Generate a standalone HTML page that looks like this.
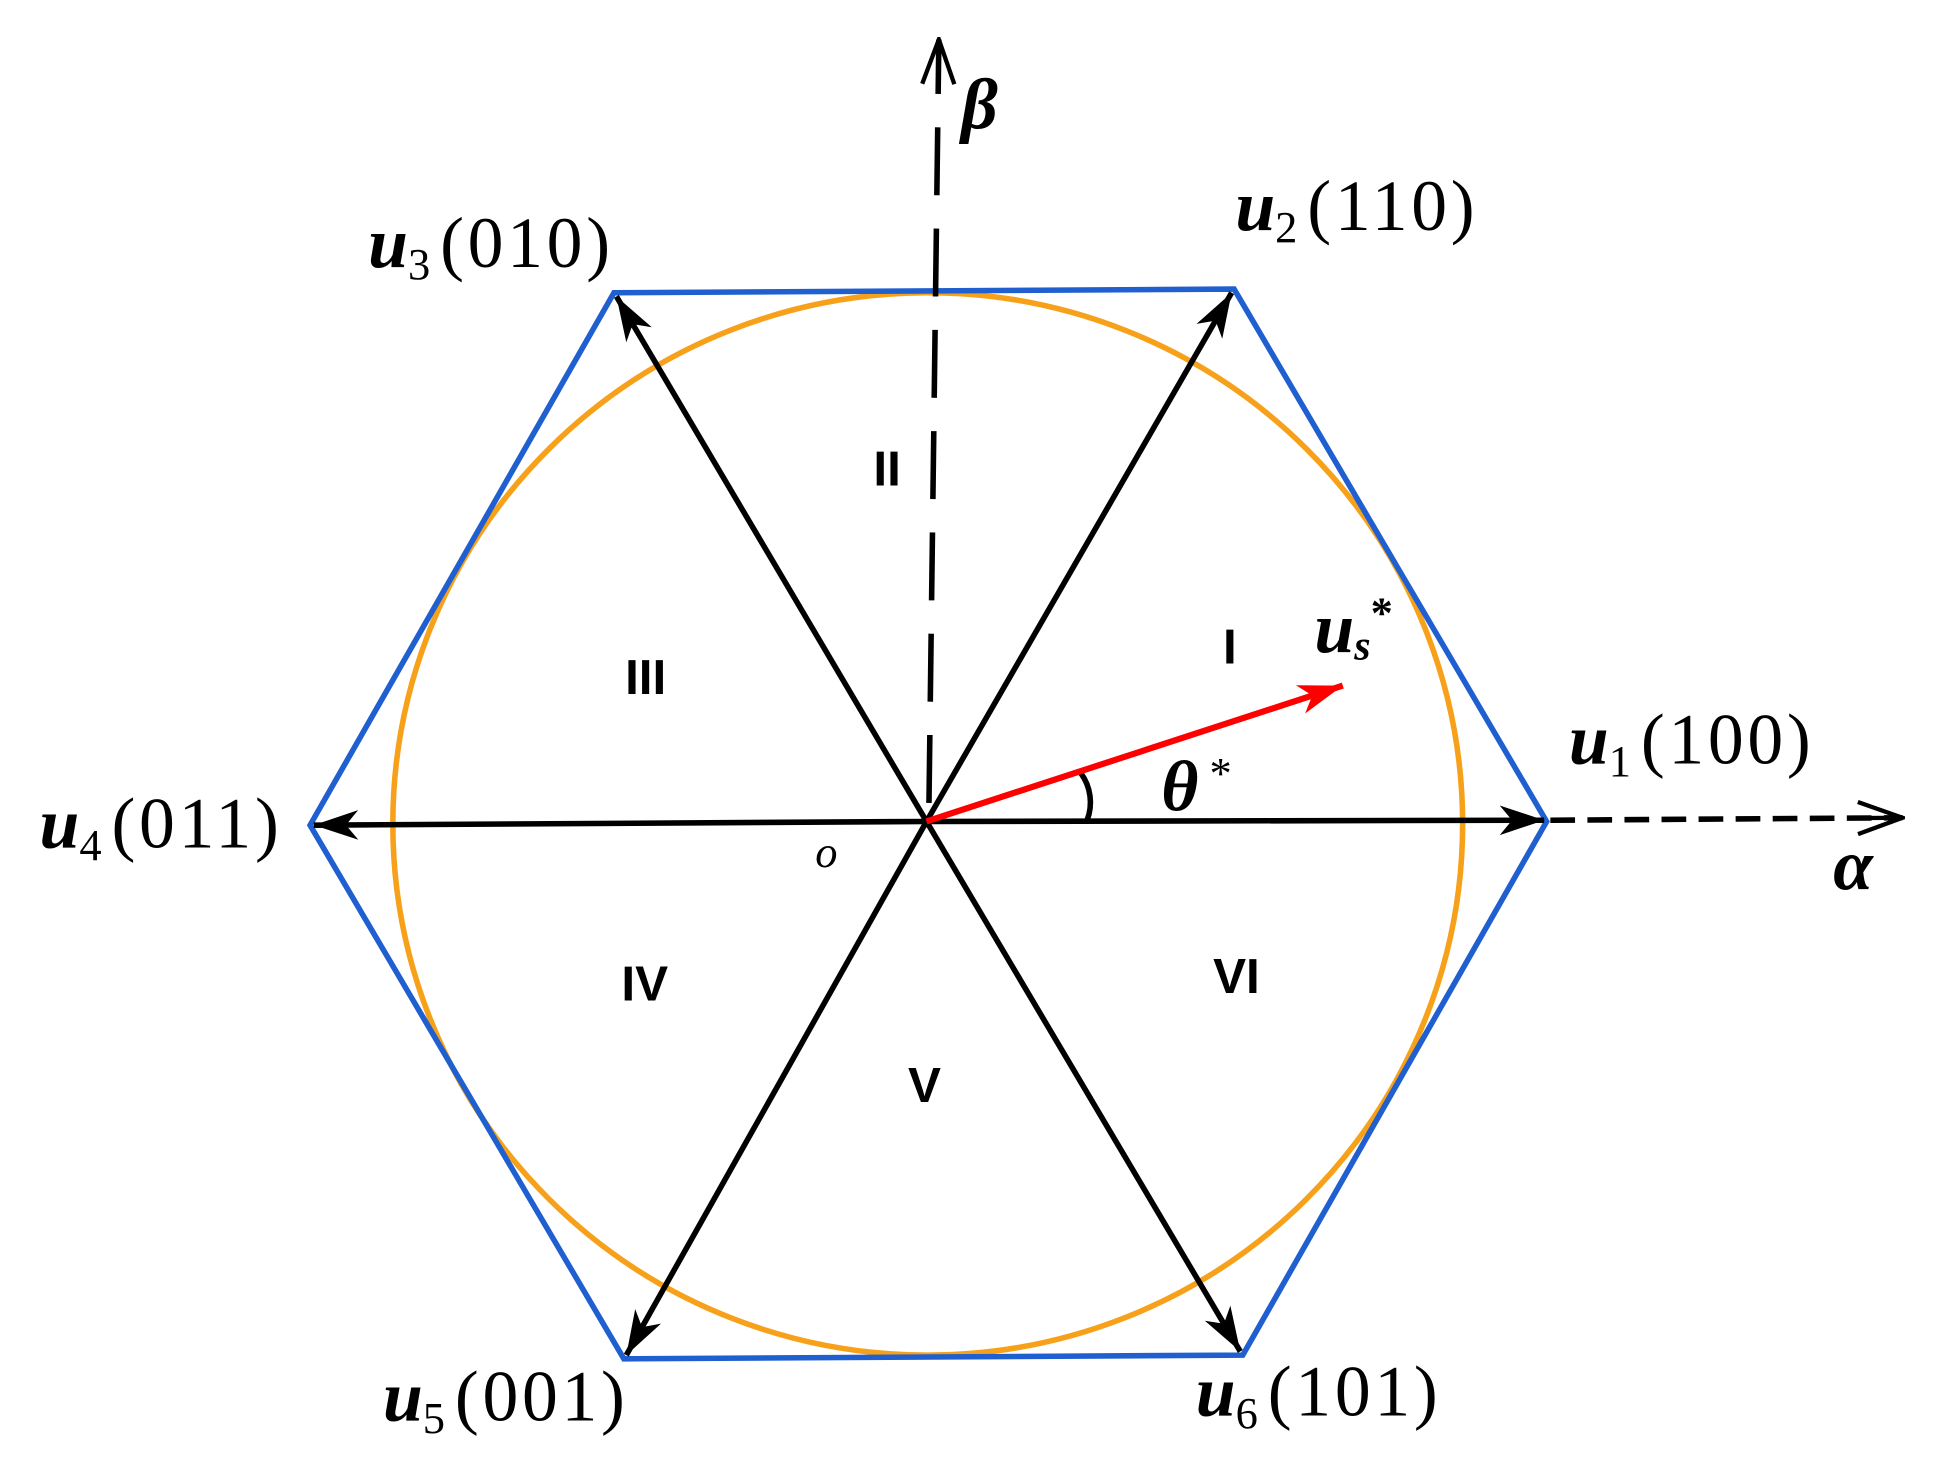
<!DOCTYPE html>
<html><head><meta charset="utf-8"><style>html,body{margin:0;padding:0;background:#fff}svg{display:block}</style></head>
<body>
<svg width="1937" height="1470" viewBox="0 0 1568 1190" preserveAspectRatio="none" xmlns="http://www.w3.org/2000/svg">
<defs>
<marker id="b" markerWidth="40" markerHeight="30" refX="38" refY="15" orient="auto" markerUnits="userSpaceOnUse"><path d="M2,3 L38,15 L2,27 L12,15 Z" fill="#000"/></marker>
<marker id="r" markerWidth="40" markerHeight="30" refX="38" refY="15" orient="auto" markerUnits="userSpaceOnUse"><path d="M2,3 L38,15 L2,27 L12,15 Z" fill="#f00"/></marker>
<marker id="o" markerWidth="40" markerHeight="30" refX="38" refY="15" orient="auto" markerUnits="userSpaceOnUse"><path d="M2,2 L38,15 L2,28 M38,15 L10,15" fill="none" stroke="#000" stroke-width="3.5"/></marker>
</defs>
<ellipse cx="751" cy="667" rx="433" ry="430" fill="none" stroke="#f7a11a" stroke-width="4.5"/>
<polygon points="1252,665 999,234 497,237 251,668 505,1100 1006,1097" fill="none" stroke="#1f5fcf" stroke-width="4.5"/>
<g stroke="#000" stroke-width="4.5" fill="none">
<line x1="750" y1="665" x2="1250" y2="664" marker-end="url(#b)"/>
<line x1="750" y1="665" x2="997" y2="237" marker-end="url(#b)"/>
<line x1="750" y1="665" x2="499" y2="240" marker-end="url(#b)"/>
<line x1="750" y1="665" x2="254" y2="668" marker-end="url(#b)"/>
<line x1="750" y1="665" x2="507" y2="1097" marker-end="url(#b)"/>
<line x1="750" y1="665" x2="1004" y2="1094" marker-end="url(#b)"/>
<line x1="752" y1="650" x2="760" y2="32" stroke-dasharray="55,27" marker-end="url(#o)"/>
<line x1="1255" y1="664" x2="1540" y2="662" stroke-dasharray="20,10" marker-end="url(#o)"/>
<path d="M875,626 A40,40 0 0 1 880,664"/>
</g>
<line x1="750" y1="665" x2="1087" y2="555" stroke="#f00" stroke-width="5" marker-end="url(#r)"/>
<g font-family="Liberation Sans, sans-serif" font-size="40" font-weight="bold" fill="#000">
<text x="707" y="393">II</text>
<text x="990" y="537">I</text>
<text x="506" y="562">III</text>
<text x="503" y="810">IV</text>
<text x="735" y="892">V</text>
<text x="982" y="804">VI</text>
</g>
<g font-family="Liberation Serif, serif" font-size="58" fill="#000">
<text x="1270" y="618"><tspan font-weight="bold" font-style="italic">u</tspan><tspan font-size="36" dy="10">1</tspan><tspan dy="-10" dx="8" letter-spacing="3">(100)</tspan></text>
<text x="1000" y="186"><tspan font-weight="bold" font-style="italic">u</tspan><tspan font-size="36" dy="10">2</tspan><tspan dy="-10" dx="8" letter-spacing="3">(110)</tspan></text>
<text x="298" y="216"><tspan font-weight="bold" font-style="italic">u</tspan><tspan font-size="36" dy="10">3</tspan><tspan dy="-10" dx="8" letter-spacing="3">(010)</tspan></text>
<text x="32" y="686"><tspan font-weight="bold" font-style="italic">u</tspan><tspan font-size="36" dy="10">4</tspan><tspan dy="-10" dx="8" letter-spacing="3">(011)</tspan></text>
<text x="310" y="1150"><tspan font-weight="bold" font-style="italic">u</tspan><tspan font-size="36" dy="10">5</tspan><tspan dy="-10" dx="8" letter-spacing="3">(001)</tspan></text>
<text x="968" y="1146"><tspan font-weight="bold" font-style="italic">u</tspan><tspan font-size="36" dy="10">6</tspan><tspan dy="-10" dx="8" letter-spacing="3">(101)</tspan></text>
<text x="1064" y="528" font-weight="bold" font-style="italic">u<tspan font-size="34" dy="6">s</tspan><tspan font-size="36" dy="-26" font-style="normal">*</tspan></text>
<text x="940" y="656" font-weight="bold" font-style="italic">θ<tspan font-size="36" dy="-18" font-style="normal" font-weight="normal"> *</tspan></text>
<text x="778" y="104" font-weight="bold" font-style="italic">β</text>
<text x="1484" y="720" font-weight="bold" font-style="italic">α</text>
<text x="660" y="702" font-size="36" font-style="italic">o</text>
</g>
</svg>
</body></html>
